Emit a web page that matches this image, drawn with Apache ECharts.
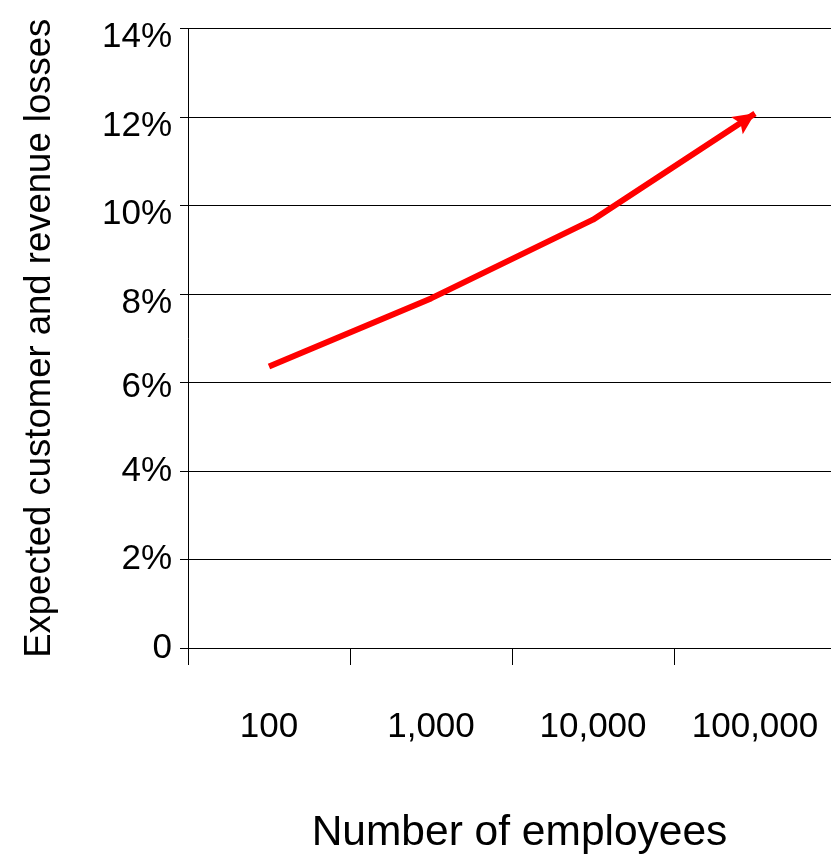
<!DOCTYPE html>
<html>
<head>
<meta charset="utf-8">
<script src="https://cdn.jsdelivr.net/npm/echarts@6/dist/echarts.min.js"></script>
<style>
  html, body { margin: 0; padding: 0; background: #fff; }
  #chart { width: 831px; height: 855px; }
</style>
</head>
<body>
<div id="chart"></div>
<script>
const employees = ["100", "1,000", "10,000", "100,000"];
const losses = [6.36, 7.9, 9.68, 12.08];
const yTicks = [0, 2, 4, 6, 8, 10, 12, 14];

const font = "'Liberation Sans', Arial, sans-serif";

// the upper tick labels sit a little below their gridlines in the original
const labelStyleFor = (v) => (v <= 4 ? "lo" : v === 6 ? "mid" : "hi");

const chart = echarts.init(document.getElementById("chart"));

// last point gets the arrow head (notched, pointing up before rotation)
const arrowPath = "path://M50,0 L100,100 L50,80 L0,100 Z";
const lineData = losses.map((v, i) =>
  i === losses.length - 1
    ? {
        value: v,
        symbol: arrowPath,
        symbolKeepAspect: false,
        symbolSize: [21, 22],
        symbolRotate: -56,
        symbolOffset: [-9, 6],
      }
    : v
);

const labelText = { fontFamily: font, fontSize: 35, color: "#000" };

const option = {
  animation: false,
  grid: {
    left: 188,
    top: 28.5,
    right: -5,
    bottom: 207,
    containLabel: false,
    outerBoundsMode: "none",
  },
  xAxis: {
    type: "category",
    data: employees,
    boundaryGap: true,
    name: "Number of employees",
    nameLocation: "middle",
    nameGap: 164,
    nameTextStyle: {
      fontFamily: font,
      fontSize: 42.5,
      color: "#000",
      padding: [0, 0, 0, 15],
    },
    axisLine: { lineStyle: { color: "#000", width: 1 } },
    axisTick: { show: true, length: 17, interval: 0, lineStyle: { color: "#000" } },
    axisLabel: Object.assign({ interval: 0, margin: 62 }, labelText),
    splitLine: { show: false },
  },
  yAxis: {
    type: "value",
    min: 0,
    max: 14,
    interval: 2,
    name: "Expected customer and revenue losses",
    nameLocation: "middle",
    nameGap: 130,
    nameRotate: 90,
    nameTextStyle: { fontFamily: font, fontSize: 36.5, color: "#000" },
    axisLine: { show: true, lineStyle: { color: "#000", width: 1 } },
    axisTick: { show: true, length: 8, lineStyle: { color: "#000" } },
    axisLabel: Object.assign(
      {
        margin: 16,
        formatter: (v) => {
          const txt = yTicks.includes(v) && v !== 0 ? v + "%" : String(v);
          return "{" + labelStyleFor(v) + "|" + txt + "}";
        },
        rich: {
          lo: Object.assign({ padding: [0, 0, 0, 0] }, labelText),
          mid: Object.assign({ padding: [10, 0, 0, 0] }, labelText),
          hi: Object.assign({ padding: [18, 0, 0, 0] }, labelText),
        },
      },
      labelText
    ),
    splitLine: { show: true, lineStyle: { color: "#000", width: 1 } },
  },
  series: [
    {
      type: "line",
      data: lineData,
      showSymbol: true,
      symbol: "none",
      lineStyle: { color: "#ff0000", width: 6 },
      itemStyle: { color: "#ff0000" },
    },
  ],
};

chart.setOption(option);
</script>
</body>
</html>
